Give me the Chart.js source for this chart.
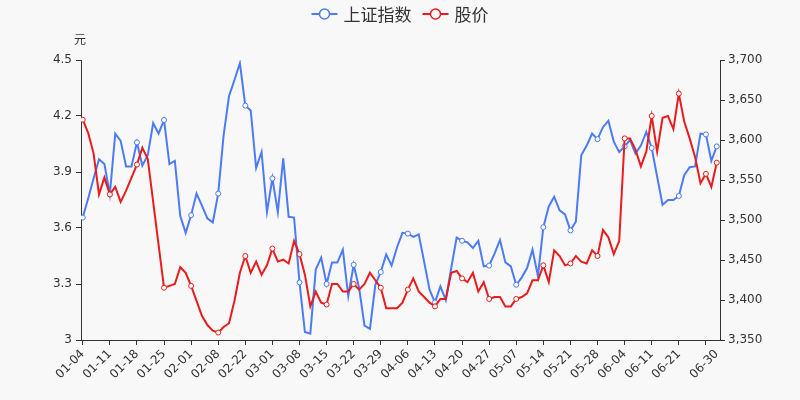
<!DOCTYPE html>
<html>
<head>
<meta charset="utf-8">
<script src="https://cdn.jsdelivr.net/npm/chart.js@4.4.0/dist/chart.umd.min.js"></script>
<style>
  html, body { margin: 0; padding: 0; background: #f8f8f8; }
  #wrap { width: 800px; height: 400px; }
</style>
</head>
<body>
<div id="wrap"><canvas id="chart" width="800" height="400"></canvas></div>
<script>
const dates = [
  '01-04','01-05','01-06','01-07','01-08','01-11','01-12','01-13','01-14','01-15',
  '01-18','01-19','01-20','01-21','01-22','01-25','01-26','01-27','01-28','01-29',
  '02-01','02-02','02-03','02-04','02-05','02-08','02-09','02-10','02-18','02-19',
  '02-22','02-23','02-24','02-25','02-26','03-01','03-02','03-03','03-04','03-05',
  '03-08','03-09','03-10','03-11','03-12','03-15','03-16','03-17','03-18','03-19',
  '03-22','03-23','03-24','03-25','03-26','03-29','03-30','03-31','04-01','04-02',
  '04-06','04-07','04-08','04-09','04-12','04-13','04-14','04-15','04-16','04-19',
  '04-20','04-21','04-22','04-23','04-26','04-27','04-28','04-29','04-30','05-06',
  '05-07','05-10','05-11','05-12','05-13','05-14','05-17','05-18','05-19','05-20',
  '05-21','05-24','05-25','05-26','05-27','05-28','05-31','06-01','06-02','06-03',
  '06-04','06-07','06-08','06-09','06-10','06-11','06-15','06-16','06-17','06-18',
  '06-21','06-22','06-23','06-24','06-25','06-28','06-29','06-30'
]

// 上证指数 (right axis)
const indexValues = [
  3503, 3527, 3552, 3576, 3570, 3532, 3608, 3599, 3567, 3567,
  3597, 3568, 3581, 3621, 3608, 3625, 3570, 3574, 3505, 3484,
  3506, 3533, 3518, 3502, 3497, 3533, 3606, 3655, 3675, 3696,
  3643, 3637, 3565, 3585, 3510, 3552, 3510, 3577, 3504, 3503,
  3422, 3360, 3358, 3438, 3453, 3420, 3447, 3447, 3463, 3405,
  3444, 3415, 3368, 3364, 3419, 3435, 3457, 3443, 3466, 3484,
  3483, 3479, 3482, 3448, 3413, 3397, 3417, 3400, 3440, 3478,
  3474, 3472, 3465, 3474, 3442, 3443, 3458, 3475, 3447, 3442,
  3419, 3428, 3440, 3463, 3430, 3491, 3517, 3529, 3512, 3507,
  3487, 3498, 3581, 3593, 3608, 3601, 3616, 3624, 3598, 3585,
  3592, 3600, 3583, 3593, 3610, 3590, 3554, 3519, 3525, 3525,
  3530, 3556, 3566, 3567, 3608, 3607, 3574, 3592
]

// 股价 (left axis, 元)
const priceValues = [
  4.18, 4.11, 4.00, 3.78, 3.87, 3.78, 3.82, 3.74, 3.80, 3.87,
  3.94, 4.03, 3.97, 3.74, 3.51, 3.28, 3.29, 3.30, 3.39, 3.36,
  3.29, 3.21, 3.13, 3.08, 3.05, 3.04, 3.07, 3.09, 3.21, 3.36,
  3.45, 3.36, 3.42, 3.35, 3.40, 3.49, 3.42, 3.43, 3.41, 3.53,
  3.46, 3.35, 3.18, 3.26, 3.20, 3.19, 3.30, 3.30, 3.26, 3.26,
  3.30, 3.27, 3.30, 3.36, 3.32, 3.28, 3.17, 3.17, 3.17, 3.20,
  3.27, 3.33, 3.26, 3.23, 3.20, 3.18, 3.22, 3.22, 3.36, 3.37,
  3.33, 3.31, 3.36, 3.26, 3.31, 3.22, 3.23, 3.23, 3.18, 3.18,
  3.22, 3.23, 3.25, 3.32, 3.32, 3.40, 3.31, 3.48, 3.45, 3.40,
  3.41, 3.45, 3.42, 3.41, 3.48, 3.45, 3.59, 3.55, 3.46, 3.53,
  4.08, 4.08, 4.02, 3.93, 4.01, 4.20, 4.01, 4.19, 4.20, 4.13,
  4.32, 4.17, 4.08, 3.98, 3.84, 3.89, 3.82, 3.95
]

const leftTicks = [3, 3.3, 3.6, 3.9, 4.2, 4.5]
const rightTicks = [3350, 3400, 3450, 3500, 3550, 3600, 3650, 3700]
const xTickIdx = [0, 5, 10, 15, 20, 25, 30, 35, 40, 45, 50, 55, 60, 65, 70, 75, 80, 85, 90, 95, 100, 105, 110, 115, 117]
const hiddenLabelIdx = [115]

const BLUE = '#4b7bf5'
const RED = '#e81c1c'
const AXIS = '#333'
const FONT = 'DejaVu Sans'

const markerRadius = (ctx) => {
  const i = ctx.dataIndex
  return (i % 5 === 0 || i === dates.length - 1) ? 2.5 : 0
}

const toPoints = (arr) => arr.map((v, i) => ({x: i, y: v}))

// legend + unit label drawn on the canvas
const extras = {
  id: 'extras',
  afterDraw(chart) {
    const ctx = chart.ctx
    ctx.save()
    // unit label above the left axis
    ctx.fillStyle = AXIS
    ctx.font = '12px "Noto Sans CJK SC"'
    ctx.textAlign = 'center'
    ctx.textBaseline = 'middle'
    ctx.fillText('元', chart.chartArea.left - 1, 39)

    // legend
    const items = [{text: '上证指数', color: BLUE}, {text: '股价', color: RED}]
    ctx.font = '17px "Noto Sans CJK SC"'
    const iconW = 26, gap = 6, between = 11
    let total = 0
    items.forEach((it, k) => {
      it.w = ctx.measureText(it.text).width
      total += iconW + gap + it.w + (k ? between : 0)
    })
    let x = 400 - total / 2
    const y = 14
    items.forEach((it) => {
      ctx.strokeStyle = it.color
      ctx.lineWidth = 2
      ctx.beginPath()
      ctx.moveTo(x, y)
      ctx.lineTo(x + iconW, y)
      ctx.stroke()
      ctx.beginPath()
      ctx.arc(x + iconW / 2, y, 5, 0, Math.PI * 2)
      ctx.fillStyle = '#fff'
      ctx.fill()
      ctx.lineWidth = 1.5
      ctx.stroke()
      ctx.fillStyle = AXIS
      ctx.textAlign = 'left'
      ctx.fillText(it.text, x + iconW + gap, y + 1)
      x += iconW + gap + it.w + between
    })
    ctx.restore()
  }
}

const bg = {
  id: 'bg',
  beforeDraw(chart) {
    const ctx = chart.ctx
    ctx.save()
    ctx.fillStyle = '#f8f8f8'
    ctx.fillRect(0, 0, chart.width, chart.height)
    ctx.restore()
  }
}

new Chart(document.getElementById('chart'), {
  type: 'line',
  data: {
    datasets: [
      {
        label: '上证指数',
        data: toPoints(indexValues),
        yAxisID: 'yRight',
        borderColor: BLUE,
        backgroundColor: '#fff',
        borderWidth: 2,
        pointRadius: markerRadius,
        pointBorderWidth: 1,
        pointBorderColor: BLUE,
        pointBackgroundColor: '#fff',
        tension: 0,
        order: 1
      },
      {
        label: '股价',
        data: toPoints(priceValues),
        yAxisID: 'yLeft',
        borderColor: RED,
        backgroundColor: '#fff',
        borderWidth: 2,
        pointRadius: markerRadius,
        pointBorderWidth: 1,
        pointBorderColor: RED,
        pointBackgroundColor: '#fff',
        tension: 0,
        order: 0
      }
    ]
  },
  options: {
    responsive: false,
    animation: false,
    events: [],
    layout: { padding: { top: 60, left: 0, right: 0, bottom: 0 } },
    plugins: {
      legend: { display: false },
      tooltip: { enabled: false }
    },
    scales: {
      x: {
        type: 'linear',
        min: -0.32,
        max: 117.6,
        afterBuildTicks: (scale) => {
          scale.ticks = xTickIdx.map((v) => ({value: v}))
        },
        afterFit: (scale) => { scale.height = 60 },
        grid: {
          drawOnChartArea: false,
          tickLength: 5,
          tickColor: (c) => (c.tick && c.tick.value === 117) ? 'rgba(0,0,0,0)' : AXIS
        },
        border: { display: true, color: AXIS, width: 1 },
        ticks: {
          autoSkip: false,
          maxRotation: 45,
          minRotation: 45,
          padding: 2,
          color: AXIS,
          font: { family: FONT, size: 12 },
          callback: (v) => hiddenLabelIdx.includes(v) ? '' : dates[v]
        }
      },
      yLeft: {
        type: 'linear',
        position: 'left',
        min: 3,
        max: 4.5,
        afterBuildTicks: (scale) => {
          scale.ticks = leftTicks.map((v) => ({value: v}))
        },
        afterFit: (scale) => { scale.width = 81 },
        grid: { drawOnChartArea: false, tickLength: 5, color: AXIS },
        border: { display: true, color: AXIS, width: 1 },
        ticks: {
          padding: 4,
          color: AXIS,
          font: { family: FONT, size: 12 },
          callback: (v) => String(v)
        }
      },
      yRight: {
        type: 'linear',
        position: 'right',
        min: 3350,
        max: 3700,
        afterBuildTicks: (scale) => {
          scale.ticks = rightTicks.map((v) => ({value: v}))
        },
        afterFit: (scale) => { scale.width = 80 },
        grid: { drawOnChartArea: false, tickLength: 5, color: AXIS },
        border: { display: true, color: AXIS, width: 1 },
        ticks: {
          padding: 3,
          color: AXIS,
          font: { family: FONT, size: 12 },
          callback: (v) => v.toLocaleString('en-US')
        }
      }
    }
  },
  plugins: [bg, extras]
})
</script>
</body>
</html>
